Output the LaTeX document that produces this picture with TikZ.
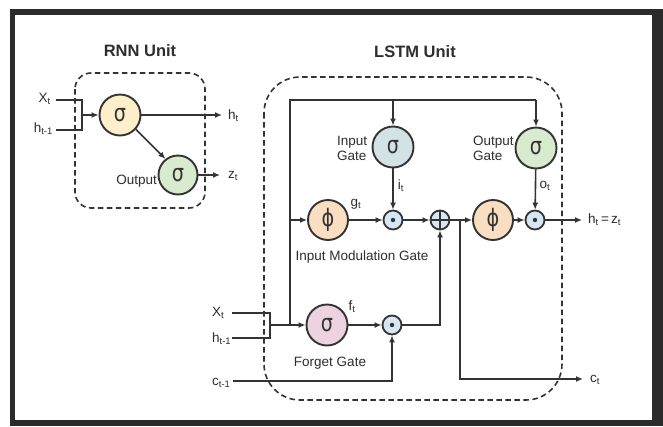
\documentclass[tikz,border=0pt]{standalone}
\usepackage{fontspec}
\setmainfont{Liberation Sans}
\newfontfamily\symfont[FakeStretch=0.8]{DejaVu Sans}
\usetikzlibrary{arrows.meta,calc}

\definecolor{linec}{HTML}{333333}
\definecolor{txtc}{HTML}{2E2E2E}
\definecolor{framec}{HTML}{2B2B2B}
\definecolor{yellowf}{HTML}{FCEFC9}
\definecolor{greenf}{HTML}{D9EBCF}
\definecolor{bluegf}{HTML}{D2E2E5}
\definecolor{peachf}{HTML}{F9DEC1}
\definecolor{pinkf}{HTML}{EDD3E0}
\definecolor{opf}{HTML}{D6E7F3}

\tikzset{
  gatecirc/.style={circle, draw=linec, line width=1.9pt, minimum size=41pt,
    inner sep=0pt, text=linec, font=\symfont\fontsize{24}{24}\selectfont},
  opcirc/.style={circle, draw=linec, line width=1.8pt, fill=opf,
    minimum size=19pt, inner sep=0pt},
  dotop/.style={opcirc, path picture={\fill[linec]
    (path picture bounding box.center) circle (2.2pt);}},
  plusop/.style={opcirc, path picture={\draw[linec, line width=1.2pt]
    (path picture bounding box.north) -- (path picture bounding box.south)
    (path picture bounding box.west) -- (path picture bounding box.east);}},
  wire/.style={draw=linec, line width=1.6pt},
  arr/.style={wire, -{Latex[length=7pt,width=6pt]}},
  unitbox/.style={draw=linec, line width=1.6pt, dash pattern=on 5.5pt off 3.5pt},
  lbl/.style={text=txtc, inner sep=0pt, font=\fontsize{13.5}{15}\selectfont},
  ttl/.style={text=txtc, inner sep=0pt, font=\bfseries\fontsize{16.5}{18}\selectfont},
}

\begin{document}
\begin{tikzpicture}[x=1pt, y=-1pt]
  % page and dark frame
  \useasboundingbox (0,0) rectangle (663,426);
  \fill[white] (0,0) rectangle (663,426);
  \fill[framec] (10,9) rectangle (663,426);
  \fill[white] (15,15) rectangle (652,420);

  % ---------------- RNN unit ----------------
  \node[ttl] (rnntitle) at (140,51) {RNN Unit};
  \draw[unitbox, rounded corners=16pt] (75,73) rectangle (205,208);

  \node[gatecirc, fill=yellowf] (rs) at (120,115) {σ};
  \node[gatecirc, fill=greenf, minimum size=39pt] (ro) at (178,175) {σ};

  \node[lbl, anchor=east] (rx) at (51,99) {X\textsubscript{t}};
  \node[lbl, anchor=east] (rh) at (53,129) {h\textsubscript{t-1}};
  \coordinate (rxa) at (56,100);
  \coordinate (rha) at (56,130);
  \coordinate (rj) at (82,115);
  \draw[wire] (rxa) -- (82,100) -- (82,130) -- (rha);
  \draw[arr] (rj) -- (rs);

  \coordinate (rhout) at (222,115);
  \draw[arr] (rs) -- (rhout);
  \node[lbl, anchor=west] (rht) at (228,116) {h\textsubscript{t}};
  \draw[arr] (rs.-42) -- (ro.128);
  \coordinate (rzout) at (220,175);
  \draw[arr] (ro) -- (rzout);
  \node[lbl, anchor=west] (rzt) at (228,176) {z\textsubscript{t}};
  \node[lbl, anchor=east] (routlbl) at (157,181) {Output};

  % ---------------- LSTM unit ----------------
  \node[ttl] (lstmtitle) at (415,52) {LSTM Unit};
  \draw[unitbox, rounded corners=36pt] (264,77) rectangle (562,400);

  \node[gatecirc, fill=bluegf] (ig) at (393,147) {σ};
  \node[gatecirc, fill=greenf] (og) at (536,148) {σ};
  \node[gatecirc, fill=peachf, minimum size=40pt] (phi1) at (328,220) {ϕ};
  \node[gatecirc, fill=peachf, minimum size=40pt] (phi2) at (493,220) {ϕ};
  \node[gatecirc, fill=pinkf] (fg) at (327,325) {σ};

  \node[dotop] (d1) at (393,220) {};
  \node[plusop] (pl) at (440,220) {};
  \node[dotop] (d2) at (535,220) {};
  \node[dotop] (d3) at (392,325) {};

  % inputs
  \node[lbl, anchor=west] (lx) at (212,313) {X\textsubscript{t}};
  \node[lbl, anchor=west] (lh) at (212,339) {h\textsubscript{t-1}};
  \node[lbl, anchor=west] (lc) at (212,383) {c\textsubscript{t-1}};
  \coordinate (lxa) at (232,313);
  \coordinate (lha) at (232,338);
  \coordinate (lca) at (233,381);
  \coordinate (lj) at (270,325);
  \draw[wire] (lxa) -- (270,313) -- (270,338) -- (lha);
  \draw[arr] (lj) -- (fg);

  % shared input bus
  \coordinate (busl) at (290,100);
  \coordinate (busig) at (393,100);
  \coordinate (busog) at (536,100);
  \coordinate (busmid) at (290,220);
  \draw[wire] (290,325) -- (busl) -- (busog);
  \draw[arr] (busig) -- (ig);
  \draw[arr] (busog) -- (og);
  \draw[arr] (busmid) -- (phi1);

  % main cell path
  \draw[arr] (phi1) -- (d1);
  \draw[arr] (ig) -- (d1);
  \draw[arr] (d1) -- (pl);
  \draw[arr] (pl) -- (phi2);
  \draw[arr] (phi2) -- (d2);
  \draw[arr] (og) -- (d2);
  \coordinate (hout) at (582,220);
  \draw[arr] (d2) -- (hout);
  \node[lbl, anchor=west] (hz) at (588,220) {h\textsubscript{t}\,=\,z\textsubscript{t}};

  % forget path and cell state
  \draw[arr] (fg) -- (d3);
  \draw[arr] (d3) -| (pl);
  \draw[arr] (lca) -| (d3);
  \coordinate (cj) at (460,220);
  \coordinate (cout) at (583,379);
  \draw[arr] (cj) |- (cout);
  \node[lbl, anchor=west] (ct) at (590,380) {c\textsubscript{t}};

  % gate signal labels
  \node[lbl] (gt) at (356,204) {g\textsubscript{t}};
  \node[lbl] (it) at (401,186) {i\textsubscript{t}};
  \node[lbl] (ot) at (545,186) {o\textsubscript{t}};
  \node[lbl] (ft) at (352,307) {f\textsubscript{t}};

  % gate names
  \node[lbl, anchor=west, align=left] (iglbl) at (337,148) {Input\\Gate};
  \node[lbl, anchor=west, align=left] (oglbl) at (473,148) {Output\\Gate};
  \node[lbl] (imglbl) at (362,257) {Input Modulation Gate};
  \node[lbl] (fglbl) at (330,363) {Forget Gate};
\end{tikzpicture}
\end{document}
